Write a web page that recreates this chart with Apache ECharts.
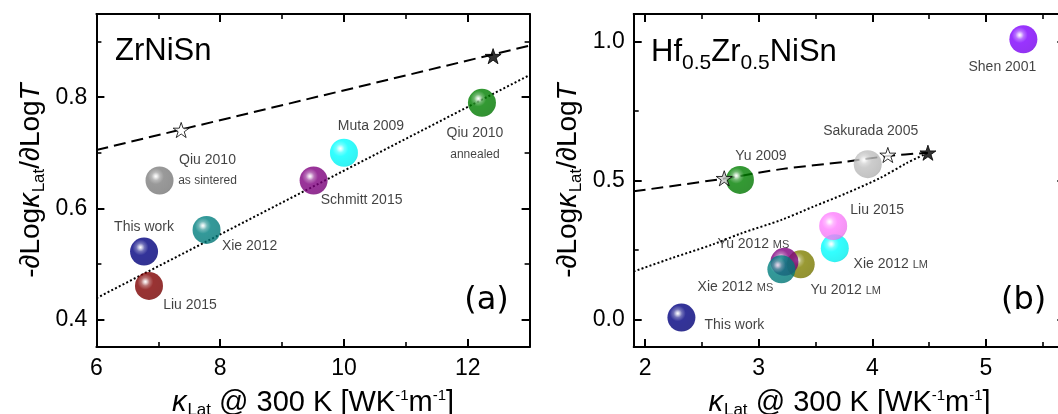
<!DOCTYPE html>
<html>
<head>
<meta charset="utf-8">
<script src="https://cdn.jsdelivr.net/npm/echarts@6/dist/echarts.min.js"></script>
<style>
  html, body { margin: 0; padding: 0; background: #fff; }
  #chart { width: 1058px; height: 414px; }
</style>
</head>
<body>
<div id="chart"></div>
<script>
// ---------- Panel (a): ZrNiSn ----------
const labelsA = ['This work', 'Liu 2015', 'Qiu 2010\n{s|as sintered}', 'Xie 2012', 'Schmitt 2015', 'Muta 2009', 'Qiu 2010\n{s|annealed}'];
const kappaA  = [6.77, 6.85, 7.02, 7.78, 9.51, 10.0, 12.23];
const slopeA  = [0.522, 0.46, 0.65, 0.561, 0.65, 0.70, 0.79];
const openStarA   = [[7.37, 0.741]];
const filledStarA = [[12.41, 0.874]];
const dashedA = [[6, 0.705], [13, 0.893]];
const dottedA = [[6, 0.438], [13, 0.84]];

// ---------- Panel (b): Hf0.5Zr0.5NiSn ----------
const labelsB = ['This work', 'Yu 2009', 'Sakurada 2005', 'Xie 2012 {m|LM}', 'Liu 2015', 'Yu 2012 {m|LM}', 'Yu 2012 {m|MS}', 'Xie 2012 {m|MS}', 'Shen 2001'];
const kappaB  = [2.32, 2.835, 3.96, 3.67, 3.656, 3.37, 3.227, 3.20, 5.33];
const slopeB  = [0.006, 0.502, 0.559, 0.256, 0.336, 0.198, 0.207, 0.18, 1.009];
const grayStarB   = [[2.697, 0.508]];
const openStarB   = [[4.137, 0.592]];
const filledStarB = [[4.49, 0.60]];
const dashedB = [[1.9, 0.461], [2.697, 0.507], [3.2, 0.541], [3.771, 0.568], [4.137, 0.588], [4.49, 0.60]];
const dottedB = [[1.9, 0.172], [2.233, 0.220], [2.585, 0.268], [2.85, 0.310], [3.2, 0.358], [3.477, 0.405],
                 [3.771, 0.454], [4.064, 0.508], [4.30, 0.562], [4.49, 0.60]];

// Axis ticks
const xMajorA = [6, 8, 10, 12], xMinorA = [7, 9, 11];
const yMajorA = [0.4, 0.6, 0.8], yMinorA = [0.5, 0.7, 0.9];
const xMajorB = [2, 3, 4, 5], xMinorB = [2.5, 3.5, 4.5, 5.5];
const yMajorB = [0, 0.5, 1.0], yMinorB = [0.25, 0.75];

// ---------- styling ----------
const FONT = '"Liberation Sans", Arial, sans-serif';
const TEXT = '#111';
const colorsA = ['#000080', '#800000', '#808080', '#008080', '#800080', '#00ffff', '#008000'];
const colorsB = ['#000080', '#008000', '#c0c0c0', '#00ffff', '#ff80ff', '#808000', '#800080', '#008080', '#8000ff'];
const offsetsA = [[0, -24], [41, 19], [48, -10], [43, 16], [48, 20], [27, -27], [-7, 41]];
const offsetsB = [[53, 8], [21, -24], [3, -33], [56, 16], [44, -16], [45, 26], [-31, -18], [-46, 18], [-21, 28]];

function mix(hex, target, t) {
  const a = parseInt(hex.slice(1), 16), b = parseInt(target.slice(1), 16);
  const ch = (v, s) => (v >> s) & 255;
  const c = s => Math.round(ch(a, s) + (ch(b, s) - ch(a, s)) * t);
  return 'rgb(' + c(16) + ',' + c(8) + ',' + c(0) + ')';
}
// Glossy ball: small white highlight, flat body, slightly darker rim
function sphereFill(hex) {
  return {
    type: 'radial', x: 0.37, y: 0.35, r: 0.75,
    colorStops: [
      { offset: 0, color: '#ffffff' },
      { offset: 0.07, color: mix(hex, '#ffffff', 0.8) },
      { offset: 0.2, color: mix(hex, '#ffffff', 0.3) },
      { offset: 0.38, color: hex },
      { offset: 0.85, color: mix(hex, '#000000', 0.06) },
      { offset: 1, color: mix(hex, '#000000', 0.2) }
    ]
  };
}
const STAR = 'path://M50,2 L61.2,36.2 L97.6,36.2 L68.2,57.6 L79.4,92 L50,70.8 L20.6,92 L31.8,57.6 L2.4,36.2 L38.8,36.2 Z';

const nameRich = {
  k:   { fontSize: 29, fontStyle: 'italic', fontFamily: FONT, color: '#000' },
  it:  { fontSize: 28, fontStyle: 'italic', fontFamily: FONT, color: '#000' },
  sub: { fontSize: 17, fontFamily: FONT, color: '#000', padding: [16, 0, 0, 1] },
  sup: { fontSize: 15, fontFamily: FONT, color: '#000', padding: [0, 0, 14, 0] }
};
const xName = '{k|κ}{sub|Lat} @ 300 K [WK{sup|-1}m{sup|-1}]';
const yName = '-∂Log{k|κ}{sub|Lat}/∂Log{it|T}';

// Four axes per side pair: labelled axis, its minor ticks, and the mirrored frame side
function frameAxes(dim, gridIndex, range, majors, minors, fmt, name, nameGap) {
  const near = dim === 'x' ? 'bottom' : 'left';
  const far = dim === 'x' ? 'top' : 'right';
  const base = { type: 'value', gridIndex, min: range[0], max: range[1], splitLine: { show: false }, silent: true };
  const line = show => ({ show, onZero: false, lineStyle: { color: '#000', width: 2 } });
  const ticks = (vals, len, w) => ({ show: true, inside: true, length: len, customValues: vals, lineStyle: { color: '#000', width: w } });
  const off = { show: false };
  return [
    Object.assign({}, base, {
      position: near, axisLine: line(true), axisTick: ticks(majors, 8, 2),
      axisLabel: { show: true, customValues: majors, formatter: fmt, margin: dim === 'x' ? 10 : 9,
                   fontSize: 23, fontFamily: FONT, color: '#000' },
      name, nameLocation: 'middle', nameGap, nameRotate: dim === 'y' ? 90 : 0,
      nameTextStyle: { fontSize: dim === 'x' ? 29 : 28, fontFamily: FONT, color: '#000', rich: nameRich }
    }),
    Object.assign({}, base, { position: near, axisLine: line(false), axisTick: ticks(minors, 5, 1.6), axisLabel: off }),
    Object.assign({}, base, { position: far, axisLine: line(true), axisTick: ticks(majors, 8, 2), axisLabel: off }),
    Object.assign({}, base, { position: far, axisLine: line(false), axisTick: ticks(minors, 5, 1.6), axisLabel: off })
  ];
}
const intFmt = v => String(Math.round(v));
const decFmt = v => v.toFixed(1);

const labelRich = {
  s: { fontSize: 12, fontFamily: FONT, color: TEXT },
  m: { fontSize: 11, fontFamily: FONT, color: TEXT, padding: [2, 0, 0, 0] }
};
function sphereSeries(xi, yi, xs, ys, labels, colors, offsets) {
  return {
    type: 'scatter', xAxisIndex: xi, yAxisIndex: yi, symbol: 'circle', symbolSize: 28, z: 3,
    data: xs.map((x, i) => ({
      value: [x, ys[i]],
      itemStyle: { color: sphereFill(colors[i]) },
      label: { show: true, position: 'inside', offset: offsets[i], formatter: labels[i] }
    })),
    label: { fontSize: 14, lineHeight: 21, fontFamily: FONT, color: TEXT, textBorderWidth: 0, rich: labelRich }
  };
}
function curveSeries(xi, yi, pts, dash, smooth) {
  return {
    type: 'line', xAxisIndex: xi, yAxisIndex: yi, data: pts, symbol: 'none', smooth, clip: true, z: 2,
    lineStyle: { color: '#000', width: 2, type: dash }
  };
}
function starSeries(xi, yi, pts, fill) {
  return {
    type: 'scatter', xAxisIndex: xi, yAxisIndex: yi, data: pts, symbol: STAR, symbolSize: 16,
    symbolKeepAspect: true, z: 4, itemStyle: { color: fill, borderColor: '#000', borderWidth: 1 }
  };
}

const chart = echarts.init(document.getElementById('chart'), null, { renderer: 'canvas' });
chart.setOption({
  animation: false,
  backgroundColor: '#fff',
  grid: [
    { left: 96.4, top: 14, width: 433.2, height: 333, containLabel: false, outerBoundsMode: 'none' },
    { left: 633.7, top: 14, width: 431.7, height: 333, containLabel: false, outerBoundsMode: 'none' }
  ],
  xAxis: [
    ...frameAxes('x', 0, [6, 13], xMajorA, xMinorA, intFmt, xName, 39),
    ...frameAxes('x', 1, [1.9, 5.7], xMajorB, xMinorB, intFmt, xName, 39)
  ],
  yAxis: [
    ...frameAxes('y', 0, [0.35, 0.95], yMajorA, yMinorA, decFmt, yName, 49),
    ...frameAxes('y', 1, [-0.1, 1.1], yMajorB, yMinorB, decFmt, yName, 49)
  ],
  series: [
    curveSeries(0, 0, dashedA, [12, 6], false),
    curveSeries(0, 0, dottedA, [2, 2.2], false),
    sphereSeries(0, 0, kappaA, slopeA, labelsA, colorsA, offsetsA),
    starSeries(0, 0, openStarA, '#ffffff'),
    starSeries(0, 0, filledStarA, '#000000'),

    curveSeries(4, 4, dashedB, [12, 6], 0.3),
    curveSeries(4, 4, dottedB, [2, 2.2], 0.3),
    sphereSeries(4, 4, kappaB, slopeB, labelsB, colorsB, offsetsB),
    starSeries(4, 4, grayStarB, '#c8c8c8'),
    starSeries(4, 4, openStarB, '#ffffff'),
    starSeries(4, 4, filledStarB, '#000000')
  ],
  graphic: [
    { type: 'text', x: 115, y: 51, silent: true,
      style: { text: 'ZrNiSn', fontSize: 31, fontFamily: FONT, fill: '#000', align: 'left', verticalAlign: 'middle' } },
    { type: 'text', x: 486.5, y: 301, silent: true,
      style: { text: '(a)', fontSize: 32, fontFamily: '"DejaVu Sans", sans-serif', fill: '#000', align: 'center', verticalAlign: 'middle' } },
    { type: 'text', x: 651, y: 52, silent: true,
      style: { text: 'Hf{s|0.5}Zr{s|0.5}NiSn', fontSize: 31, fontFamily: FONT, fill: '#000', align: 'left', verticalAlign: 'middle',
               rich: { s: { fontSize: 21, fontFamily: FONT, fill: '#000', padding: [23, 0, 0, 0] } } } },
    { type: 'text', x: 1023.7, y: 301, silent: true,
      style: { text: '(b)', fontSize: 32, fontFamily: '"DejaVu Sans", sans-serif', fill: '#000', align: 'center', verticalAlign: 'middle' } }
  ]
});
</script>
</body>
</html>
